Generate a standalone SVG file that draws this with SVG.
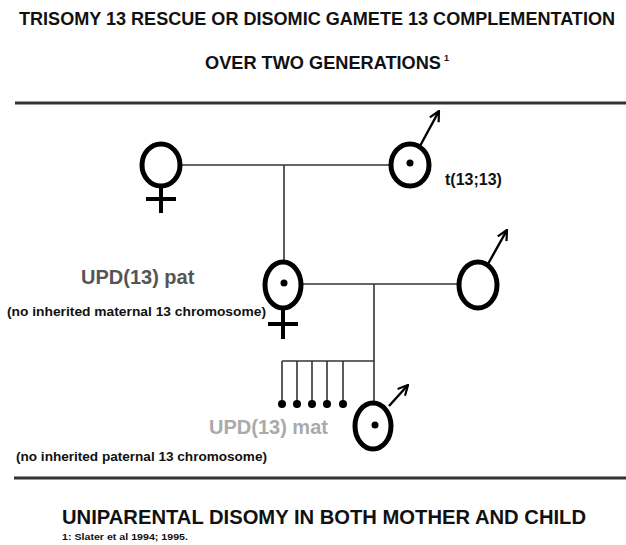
<svg xmlns="http://www.w3.org/2000/svg" width="626" height="545" viewBox="0 0 626 545">
<defs>
<style>
.t{font-family:"Liberation Sans",Arial,sans-serif;font-weight:bold;fill:#111}
.sym{fill:none;stroke:#000;stroke-width:5}
.cr{stroke:#000;stroke-width:4;fill:none}
.ln{stroke:#333;stroke-width:1.6;fill:none}
.ar{stroke:#000;stroke-width:2.4;fill:none}
.rule{stroke:#333;stroke-width:3}
</style>
<marker id="ah" viewBox="0 0 12 12" refX="11" refY="6" markerWidth="12" markerHeight="12" orient="auto" markerUnits="userSpaceOnUse">
<path d="M1,1 L11,6 L1,11" fill="none" stroke="#000" stroke-width="2.2"/>
</marker>
</defs>
<rect width="626" height="545" fill="#fff"/>
<g id="title">
<text class="t" x="19" y="25" font-size="18" textLength="596" lengthAdjust="spacingAndGlyphs">TRISOMY 13 RESCUE OR DISOMIC GAMETE 13 COMPLEMENTATION</text>
<text class="t" x="205" y="69" font-size="18" textLength="236" lengthAdjust="spacingAndGlyphs">OVER TWO GENERATIONS</text>
<text class="t" x="444" y="61" font-size="9">1</text>
<line class="rule" x1="15" y1="103" x2="626" y2="103"/>
</g>
<g id="connectors">
<line class="ln" x1="181" y1="165" x2="390" y2="165"/>
<line class="ln" x1="284" y1="165" x2="284" y2="262"/>
<line class="ln" x1="302" y1="284" x2="459" y2="284"/>
<line class="ln" x1="374" y1="284" x2="374" y2="403"/>
<line class="ln" x1="282" y1="361" x2="374" y2="361"/>
<line class="ln" x1="282" y1="361" x2="282" y2="403"/>
<line class="ln" x1="297" y1="361" x2="297" y2="403"/>
<line class="ln" x1="312" y1="361" x2="312" y2="403"/>
<line class="ln" x1="327" y1="361" x2="327" y2="403"/>
<line class="ln" x1="343" y1="361" x2="343" y2="403"/>
</g>
<g id="female1">
<ellipse class="sym" cx="161" cy="165" rx="19" ry="21"/>
<line class="cr" x1="161" y1="186" x2="161" y2="213"/>
<line class="cr" x1="146" y1="199" x2="176" y2="199"/>
</g>
<g id="male1">
<ellipse class="sym" cx="410" cy="165" rx="19" ry="21"/>
<circle cx="410" cy="163" r="3.5" fill="#000"/>
<line class="ar" x1="420" y1="146" x2="439" y2="111" marker-end="url(#ah)"/>
<text class="t" x="445" y="185" font-size="16">t(13;13)</text>
</g>
<g id="female2">
<ellipse class="sym" cx="283" cy="285" rx="18" ry="23"/>
<circle cx="284" cy="283" r="3.5" fill="#000"/>
<line class="cr" x1="283" y1="308" x2="283" y2="339"/>
<line class="cr" x1="268" y1="324" x2="298" y2="324"/>
<text class="t" x="81" y="284" font-size="20" style="fill:#555">UPD(13) pat</text>
<text class="t" x="7" y="316" font-size="12" textLength="259" lengthAdjust="spacingAndGlyphs">(no inherited maternal 13 chromosome)</text>
</g>
<g id="male2">
<ellipse class="sym" cx="478" cy="285" rx="19" ry="23"/>
<line class="ar" x1="488" y1="264" x2="507" y2="230" marker-end="url(#ah)"/>
</g>
<g id="miscarriages">
<circle cx="282" cy="404" r="4" fill="#000"/>
<circle cx="297" cy="404" r="4" fill="#000"/>
<circle cx="312" cy="404" r="4" fill="#000"/>
<circle cx="327" cy="404" r="4" fill="#000"/>
<circle cx="343" cy="404" r="4" fill="#000"/>
</g>
<g id="male3">
<ellipse class="sym" cx="373" cy="426" rx="18" ry="23"/>
<circle cx="375" cy="425" r="3.5" fill="#000"/>
<line class="ar" x1="389" y1="406" x2="408" y2="385" marker-end="url(#ah)"/>
<text class="t" x="209" y="434" font-size="20" style="fill:#aaa">UPD(13) mat</text>
<text class="t" x="16" y="461" font-size="12" textLength="251" lengthAdjust="spacingAndGlyphs">(no inherited paternal 13 chromosome)</text>
</g>
<g id="footer">
<line class="rule" x1="14" y1="478" x2="626" y2="478"/>
<text class="t" x="62" y="524" font-size="20.5" textLength="524" lengthAdjust="spacingAndGlyphs">UNIPARENTAL DISOMY IN BOTH MOTHER AND CHILD</text>
<text class="t" x="62" y="540" font-size="9" textLength="126" lengthAdjust="spacingAndGlyphs">1: Slater et al 1994; 1995.</text>
</g>
</svg>
